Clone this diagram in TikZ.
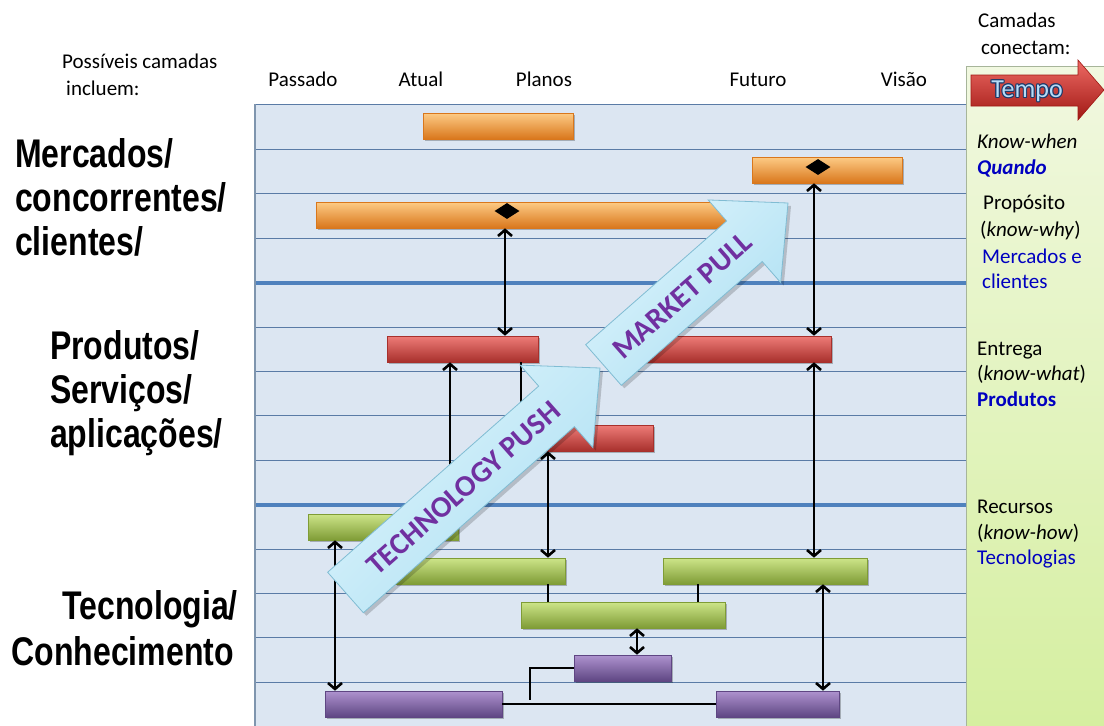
\documentclass[tikz,border=0pt]{standalone}
\usepackage{fontspec}
\setmainfont{Carlito}
\newfontfamily\narrowfont[FakeStretch=0.80]{Liberation Sans}
\usetikzlibrary{arrows.meta,calc,shadows,shapes.geometric}
\definecolor{chartbg}{HTML}{DCE6F2}
\definecolor{gridthin}{HTML}{5A7BA6}
\definecolor{gridthick}{HTML}{4F81BD}
\definecolor{chartedge}{HTML}{7F95AE}
\definecolor{panelT}{HTML}{F1F8E0}
\definecolor{panelB}{HTML}{D5EFA0}
\definecolor{paneledge}{HTML}{A7B59A}
\definecolor{orL}{HTML}{FDCB85}
\definecolor{orM}{HTML}{F89A35}
\definecolor{orD}{HTML}{D9771C}
\definecolor{rdL}{HTML}{EE7C78}
\definecolor{rdM}{HTML}{D5423E}
\definecolor{rdD}{HTML}{A8302C}
\definecolor{grL}{HTML}{CDE589}
\definecolor{grM}{HTML}{A2C352}
\definecolor{grD}{HTML}{7F9C36}
\definecolor{puL}{HTML}{AE93CF}
\definecolor{puM}{HTML}{8466A8}
\definecolor{puD}{HTML}{5F4683}
\definecolor{cyanL}{HTML}{DDF4FC}
\definecolor{cyanD}{HTML}{AEE0F3}
\definecolor{cyanedge}{HTML}{80BCD3}
\definecolor{pushtext}{HTML}{7030A0}
\definecolor{navy}{HTML}{0000C0}
\definecolor{tempoL}{HTML}{EE6A64}
\definecolor{tempoM}{HTML}{D43A35}
\definecolor{tempoD}{HTML}{A01814}
\definecolor{tempoText}{HTML}{B7DCF7}
\definecolor{tempoLine}{HTML}{1B3A6B}
\tikzset{
  barbase/.style={rectangle, inner sep=0pt, minimum height=26pt, line width=0.6pt,
    drop shadow={shadow xshift=1.5pt, shadow yshift=-1.5pt, fill=black, opacity=0.25}},
  obar/.style={barbase, draw=orD, top color=orL, middle color=orM, bottom color=orD},
  rbar/.style={barbase, draw=rdD, top color=rdL, middle color=rdM, bottom color=rdD},
  gbar/.style={barbase, draw=grD, top color=grL, middle color=grM, bottom color=grD},
  pbar/.style={barbase, draw=puD, top color=puL, middle color=puM, bottom color=puD},
  con/.style={line width=2.6pt, black},
  dbl/.style={con, {Straight Barb[length=6pt,width=14pt]}-{Straight Barb[length=6pt,width=14pt]}},
  sgl/.style={con, -{Straight Barb[length=6pt,width=14pt]}},
  bigarrow/.style={top color=cyanL, bottom color=cyanD, shading angle=45, draw=cyanedge, line width=0.8pt, line join=miter,
    drop shadow={shadow xshift=3pt, shadow yshift=-3pt, fill=black, opacity=0.18}},
  pushlabel/.style={font=\fontsize{30}{32}\selectfont\bfseries, text=pushtext, inner sep=0pt},
  lab/.style={font=\narrowfont\bfseries\fontsize{40}{45}\selectfont, inner sep=0pt},
  txt/.style={font=\fontsize{21}{25}\selectfont, inner sep=0pt},
  tempofont/.style={font=\fontsize{26}{28}\selectfont, inner sep=0pt},
  diam/.style={diamond, fill=black, inner sep=0pt, minimum width=25pt, minimum height=16pt, aspect=1.5}
}
\begin{document}
\begin{tikzpicture}[x=1pt,y=-1pt]
\fill[white] (0,0) rectangle (1104,726);
\useasboundingbox (0,0) rectangle (1104,726);
% chart background
\fill[chartbg] (255,104) rectangle (966,726);
% right panel
\shade[top color=panelT, bottom color=panelB] (966,66) rectangle (1104,726);
\draw[paneledge, line width=0.8pt] (966,726) -- (966,66) -- (1104,66);
% grid lines
\foreach \k in {1,2,3,5,6,7,8,10,11,12,13}
  \draw[gridthin, line width=0.9pt] (255,105+44.4*\k) -- (966,105+44.4*\k);
\foreach \k in {4,9}
  \draw[gridthick, line width=4.2pt] (255,105+44.4*\k) -- (966,105+44.4*\k);
\draw[gridthin, line width=0.9pt] (255,104) -- (966,104);
\draw[chartedge, line width=1.3pt] (255,104) -- (255,726);

% bars
\node[obar, minimum width=150pt] (o1) at (498,126) {};
\node[obar, minimum width=150pt] (o2) at (827,170) {};
\node[obar, minimum width=409pt] (o3) at (520.5,215) {};
\node[rbar, minimum width=151pt] (r1) at (462.5,349) {};
\node[rbar, minimum width=191pt] (r2) at (735.5,349) {};
\node[rbar, minimum width=138pt] (r3) at (584,438) {};
\node[gbar, minimum width=150pt] (g1) at (383,527) {};
\node[gbar, minimum width=170pt] (g2) at (480,571) {};
\node[gbar, minimum width=204pt] (g3) at (765,571) {};
\node[gbar, minimum width=204pt] (g4) at (623,615) {};
\node[pbar, minimum width=97pt] (p1) at (622.5,668) {};
\node[pbar, minimum width=177pt] (p2) at (413.5,704) {};
\node[pbar, minimum width=123pt] (p3) at (777.5,704) {};

% diamonds
\node[diam] (d1) at (507,211) {};
\node[diam] (d2) at (818,167) {};

% connector x positions
\coordinate (xa) at (505,0);
\coordinate (xb) at (814,0);
\coordinate (xc) at (450,0);
\coordinate (xd) at (521,0);
\coordinate (xe) at (548,0);
\coordinate (xf) at (823,0);
\coordinate (xg) at (637,0);
\coordinate (xh) at (335,0);
\coordinate (xi) at (698,0);
\coordinate (e1) at (530,700);

\draw[dbl] (xa |- o3.south) -- (xa |- r1.north);
\draw[dbl] (xb |- o2.south) -- (xb |- r2.north);
\draw[sgl] (xc |- g1.north) -- (xc |- r1.south);
\draw[con] (xd |- r1.south) -- (xd |- r3.north);
\draw[dbl] (xe |- r3.south) -- (xe |- g2.north);
\draw[dbl] (xb |- r2.south) -- (xb |- g3.north);
\draw[dbl] (xf |- g3.south) -- (xf |- p3.north);
\draw[dbl] (xg |- g4.south) -- (xg |- p1.north);
\draw[dbl] (xh |- g1.south) -- (xh |- p2.north);
\draw[con] (xe |- g2.south) -- (xe |- g4.north);
\draw[con] (xi |- g3.south) -- (xi |- g4.north);
\draw[con, line width=2.2pt] (p1.west) -| (e1);
\draw[con, line width=2.2pt] (p2.east) -- (p3.west);

% big arrows
\coordinate (T1) at (345.5,592.5);
\coordinate (P1) at (600,368);
\coordinate (B1) at ($(P1)!58pt!(T1)$);
\draw[bigarrow] ($(T1)!27pt!90:(P1)$) -- ($(B1)!27pt!90:(P1)$) -- ($(B1)!55pt!90:(P1)$) -- (P1)
  -- ($(B1)!55pt!-90:(P1)$) -- ($(B1)!27pt!-90:(P1)$) -- ($(T1)!27pt!-90:(P1)$) -- cycle;
\path (T1) -- (B1) node[pos=0.56, sloped, pushlabel] (tp) {TECHNOLOGY PUSH};

\coordinate (T2) at (603.5,365);
\coordinate (P2) at (788,203);
\coordinate (B2) at ($(P2)!58pt!(T2)$);
\draw[bigarrow] ($(T2)!27pt!90:(P2)$) -- ($(B2)!27pt!90:(P2)$) -- ($(B2)!55pt!90:(P2)$) -- (P2)
  -- ($(B2)!55pt!-90:(P2)$) -- ($(B2)!27pt!-90:(P2)$) -- ($(T2)!27pt!-90:(P2)$) -- cycle;
\path (T2) -- (B2) node[pos=0.56, sloped, pushlabel] (mp) {MARKET PULL};

% Tempo arrow
\shade[top color=tempoL, middle color=tempoM, bottom color=tempoD, draw=tempoD, line width=0.6pt]
  (971,75) -- (1078,75) -- (1078,60) -- (1104,90) -- (1078,120) -- (1078,106) -- (971,106) -- cycle;
\foreach \dx/\dy [count=\k] in {-1/0,1/0,0/-1,0/1,-0.8/-0.8,0.8/0.8,-0.8/0.8,0.8/-0.8}
  \node[tempofont, text=tempoLine] (tempo\k) at (1027+\dx,91+\dy) {Tempo};
\node[tempofont, text=tempoText] (tempo) at (1027,91) {Tempo};

% left labels
\node[lab, anchor=base west] (l1) at (15,167) {Mercados/};
\node[lab, anchor=base west] (l2) at (15,211) {concorrentes/};
\node[lab, anchor=base west] (l3) at (15,255) {clientes/};
\node[lab, anchor=base west] (l4) at (50,359) {Produtos/};
\node[lab, anchor=base west] (l5) at (50,403) {Serviços/};
\node[lab, anchor=base west] (l6) at (50,447) {aplicações/};
\node[lab, anchor=base east] (l7) at (238,619) {Tecnologia/};
\node[lab, anchor=base east] (l8) at (234,665) {Conhecimento};

% header texts
\node[txt, anchor=base west] (h1) at (62,68) {Possíveis camadas};
\node[txt, anchor=base west] (h2) at (66,95) {incluem:};
\node[txt, anchor=base] (t1) at (303,86) {Passado};
\node[txt, anchor=base] (t2) at (421,86) {Atual};
\node[txt, anchor=base] (t3) at (544,86) {Planos};
\node[txt, anchor=base] (t4) at (758,86) {Futuro};
\node[txt, anchor=base] (t5) at (904,86) {Visão};
\node[txt, anchor=base west] (c1) at (978,27) {Camadas};
\node[txt, anchor=base west] (c2) at (981,54) {conectam:};

% right panel texts
\node[txt, anchor=base west] (k1) at (977,148) {\itshape Know-when};
\node[txt, anchor=base west, text=navy] (k2) at (977,174) {\bfseries\itshape Quando};
\node[txt, anchor=base west] (k3) at (983,209) {Propósito};
\node[txt, anchor=base west] (k4) at (980,236) {(\textit{know-why})};
\node[txt, anchor=base west, text=navy] (k5) at (982,263) {Mercados e};
\node[txt, anchor=base west, text=navy] (k6) at (982,288) {clientes};
\node[txt, anchor=base west] (k7) at (977,355) {Entrega};
\node[txt, anchor=base west] (k8) at (977,380) {(\textit{know-what})};
\node[txt, anchor=base west, text=navy] (k9) at (977,406) {\bfseries Produtos};
\node[txt, anchor=base west] (k10) at (977,513) {Recursos};
\node[txt, anchor=base west] (k11) at (977,539) {(\textit{know-how})};
\node[txt, anchor=base west, text=navy] (k12) at (977,564) {Tecnologias};
\end{tikzpicture}
\end{document}
